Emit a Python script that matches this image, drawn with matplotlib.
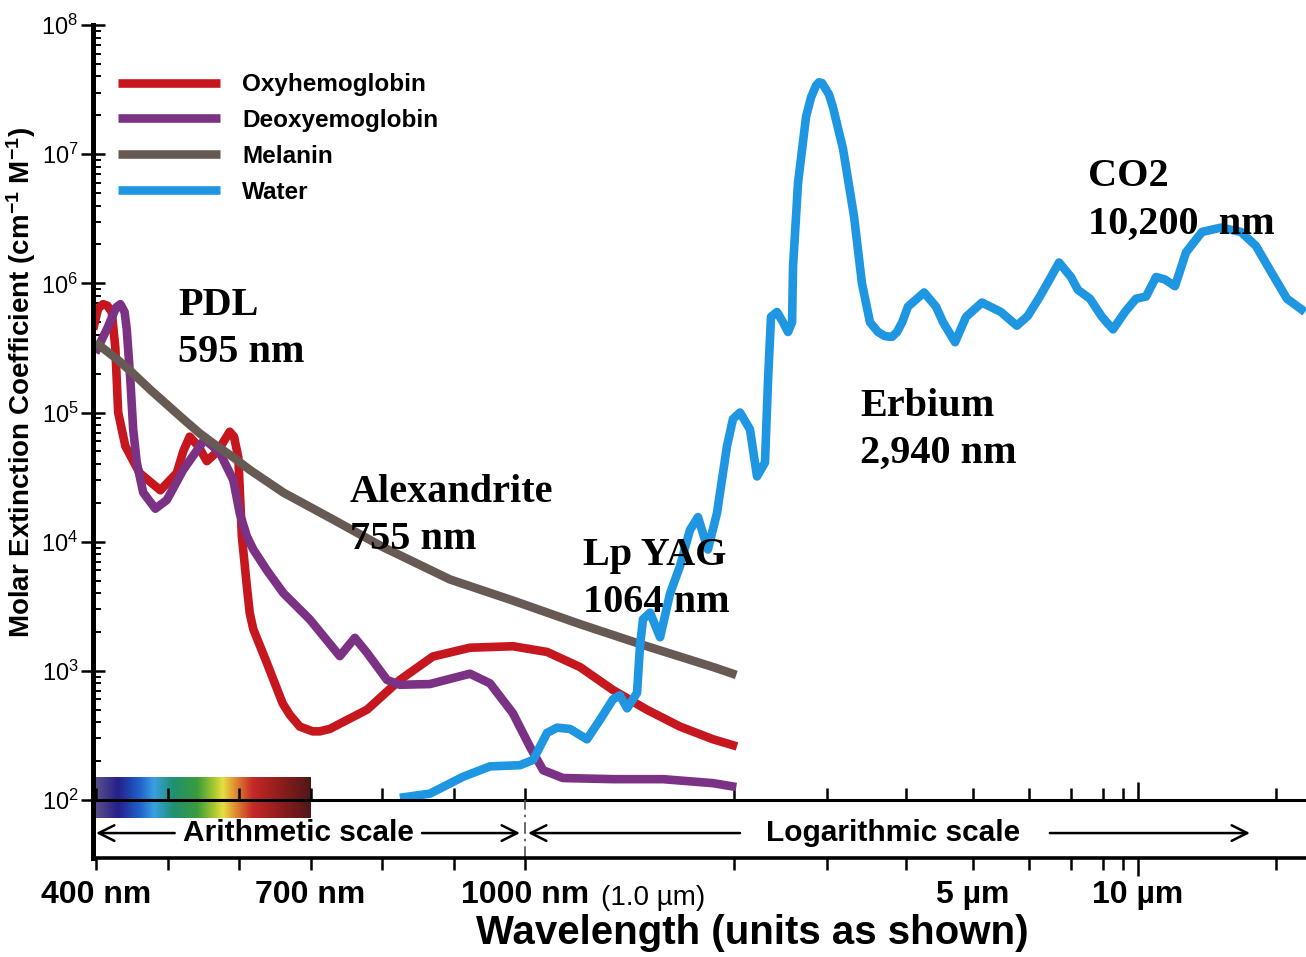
import numpy as np
import matplotlib
matplotlib.use('Agg')
import matplotlib.pyplot as plt
from matplotlib.colors import LinearSegmentedColormap
from matplotlib.ticker import FixedLocator, FuncFormatter, NullFormatter

plt.rcParams['font.family'] = 'Liberation Sans'
plt.rcParams['mathtext.fontset'] = 'custom'
plt.rcParams['mathtext.rm'] = 'Liberation Sans'
plt.rcParams['mathtext.it'] = 'Liberation Sans:italic'
plt.rcParams['mathtext.bf'] = 'Liberation Sans:bold'

# --- data: wavelength (nm) vs molar extinction coefficient ---
oxy_wl = [396, 403, 410, 416, 422, 427, 431, 441, 461, 490, 513, 522, 531, 543, 555, 570,
          587, 593, 599, 601, 604, 611, 615, 620, 639, 661, 671, 685, 703, 713, 727, 745,
          779, 825, 871, 923, 983, 1076, 1200, 1339, 1498, 1672, 1866, 2026]
oxy_val = [4.4e5, 6.4e5, 6.9e5, 6.7e5, 6.0e5, 3.2e5, 1.0e5, 5.5e4, 3.4e4, 2.5e4, 3.4e4,
           5.0e4, 6.5e4, 5.5e4, 4.2e4, 5.0e4, 7.1e4, 6.5e4, 4.5e4, 2.6e4, 1.1e4, 4.5e3,
           2.8e3, 2.1e3, 1150, 560, 457, 370, 340, 340, 355, 400, 500, 850, 1290, 1510, 1550,
           1400, 1070, 710, 500, 370, 295, 260]

deoxy_wl = [399, 416, 428, 434, 440, 443, 448, 452, 457, 466, 483, 499, 522, 552, 573, 592,
            601, 611, 620, 639, 662, 699, 741, 762, 779, 807, 825, 867, 923, 951, 983, 1017,
            1062, 1134, 1339, 1580, 1866, 2020]
deoxy_val = [2.9e5, 4.5e5, 6.5e5, 6.9e5, 6.0e5, 4.4e5, 1.8e5, 7.4e4, 4.1e4, 2.4e4, 1.8e4,
             2.1e4, 3.6e4, 6.2e4, 4.9e4, 3.0e4, 1.66e4, 1.1e4, 8.7e3, 6.0e3, 4.0e3, 2.5e3,
             1.3e3, 1.8e3, 1.38e3, 850, 780, 790, 950, 800, 470, 257, 170, 148, 145, 145,
             135, 126]

mel_wl = [399, 429, 448, 476, 522, 545, 569, 592, 615, 662, 732, 801, 895, 983, 1200, 1498,
          1866, 2020]
mel_val = [3.5e5, 2.6e5, 2.1e5, 1.5e5, 8.9e4, 6.9e4, 5.5e4, 4.5e4, 3.6e4, 2.4e4, 1.48e4,
           9.1e3, 5.1e3, 3.5e3, 2.3e3, 1.55e3, 1.07e3, 930]

water_wl = [825, 867, 913, 951, 993, 1027, 1076, 1112, 1161, 1228, 1282, 1339, 1370, 1403,
            1450, 1464, 1479, 1514, 1565, 1618, 1672, 1728, 1775, 1834, 1890, 1954, 1993,
            2053, 2144, 2211, 2289, 2320, 2350, 2412, 2476, 2531, 2576, 2587, 2644, 2738,
            2798, 2860, 2896, 2937, 2987, 3022, 3066, 3180, 3310, 3407, 3508, 3612, 3706,
            3800, 3871, 3945, 4026, 4248, 4420, 4525, 4710, 4885, 5148, 5475, 5767, 5977,
            6243, 6504, 6699, 6998, 7204, 7576, 7964, 8484, 9123, 9860, 10410, 10950, 11450,
            12040, 12730, 13790, 15170, 16770, 18080, 19500, 21130, 23130]
water_val = [104, 112, 151, 182, 186, 204, 331, 363, 355, 295, 417, 603, 646, 513, 676, 1550,
             2510, 2820, 1820, 3980, 6460, 1.23e4, 1.55e4, 8700, 1.66e4, 5.5e4, 8.9e4, 1.0e5,
             7.4e4, 3.2e4, 4.1e4, 1.8e5, 5.5e5, 6.0e5, 5.0e5, 4.2e5, 5.0e5, 1.35e6, 6.0e6,
             1.95e7, 2.75e7, 3.4e7, 3.6e7, 3.55e7, 3.16e7, 2.9e7, 2.3e7, 1.1e7, 3.3e6, 1.0e6,
             5.0e5, 4.2e5, 3.9e5, 3.85e5, 4.2e5, 5.0e5, 6.6e5, 8.5e5, 6.6e5, 5.0e5, 3.5e5,
             5.5e5, 7.1e5, 6.0e5, 4.7e5, 5.6e5, 7.9e5, 1.12e6, 1.45e6, 1.12e6, 8.9e5, 7.6e5,
             5.5e5, 4.4e5, 6.0e5, 7.6e5, 7.9e5, 1.12e6, 1.07e6, 9.5e5, 1.74e6, 2.5e6, 2.7e6,
             2.5e6, 1.95e6, 1.23e6, 7.6e5, 6.0e5]

series_names = ['Oxyhemoglobin', 'Deoxyemoglobin', 'Melanin', 'Water']
series_colors = ['#c6161e', '#7b3285', '#675a55', '#1e96e2']

laser_labels = ['PDL\n595 nm', 'Alexandrite\n755 nm', 'Lp YAG\n1064 nm',
                'Erbium\n2,940 nm', 'CO2\n10,200  nm']
laser_pos = [(0.0701, 0.662), (0.2119, 0.421), (0.4040, 0.340), (0.6323, 0.532), (0.8203, 0.828)]

major_ticks = [400, 500, 600, 700, 800, 900, 1000, 2000, 3000, 4000, 5000, 6000, 7000,
               8000, 9000, 20000]
minor_ticks = [10000]
tick_text = {400: '400 nm', 700: '700 nm', 1000: '1000 nm', 5000: '5 \u00b5m', 10000: '10 \u00b5m'}

# --- x axis: arithmetic 400-1000 nm, then a (hand drawn) logarithmic part ---
knot_wl = np.log10([1000, 2000, 3000, 4000, 5000, 6000, 7000, 8000, 9000, 10000, 20000, 40000])
knot_pos = np.array([525, 734, 827, 906, 973, 1029, 1071, 1103, 1123, 1138, 1276, 1414], float)


def fwd(w):
    w = np.asarray(w, float)
    lin = 96 + (w - 400) * 0.715
    lg = np.interp(np.log10(np.clip(w, 1, None)), knot_wl, knot_pos)
    return np.where(w <= 1000, lin, lg)


def inv(p):
    p = np.asarray(p, float)
    lin = 400 + (p - 96) / 0.715
    lg = 10 ** np.interp(p, knot_pos, knot_wl)
    return np.where(p <= 525, lin, lg)


W, H = 1306, 957
fig = plt.figure(figsize=(W / 100, H / 100), dpi=100)
ax = fig.add_axes([93 / W, (H - 800) / H, (W - 93) / W, 775 / H])
band = fig.add_axes([93 / W, (H - 858) / H, (W - 93) / W, 58 / H])
for a in (ax, band):
    a.patch.set_visible(False)
    a.set_xscale('function', functions=(fwd, inv))
    a.set_xlim(395.8, 23250)
    a.xaxis.set_major_locator(FixedLocator(major_ticks))
    a.xaxis.set_minor_locator(FixedLocator(minor_ticks))
    a.spines['top'].set_visible(False)
    a.spines['right'].set_visible(False)
    a.spines['left'].set_linewidth(3.6)

# curves
for wl, val, name, col in zip([oxy_wl, deoxy_wl, mel_wl, water_wl],
                              [oxy_val, deoxy_val, mel_val, water_val],
                              series_names, series_colors):
    ax.plot(wl, val, color=col, lw=6.2, label=name, solid_joinstyle='round',
            solid_capstyle='butt')

ax.set_yscale('log')
ax.set_ylim(1e2, 1e8)
ax.spines['bottom'].set_linewidth(2.2)
ax.yaxis.set_major_locator(FixedLocator([1e2, 1e3, 1e4, 1e5, 1e6, 1e7, 1e8]))
ax.yaxis.set_minor_locator(FixedLocator([m * 10.0 ** e for e in range(2, 8) for m in range(2, 10)]))
ax.yaxis.set_minor_formatter(NullFormatter())
ax.tick_params(axis='y', which='major', direction='inout', length=17, width=1.8, labelsize=17, pad=2)
ax.tick_params(axis='y', which='minor', direction='in', length=5.5, width=1.4)
ax.tick_params(axis='x', which='major', direction='in', length=8.6, width=1.8, labelbottom=False)
ax.tick_params(axis='x', which='minor', direction='in', length=13, width=1.8, labelbottom=False)
ax.set_ylabel('Molar Extinction Coefficient (cm$^{\\mathbf{-1}}$ M$^{\\mathbf{-1}}$)',
              fontsize=20, fontweight='bold')
ax.yaxis.set_label_coords(-0.045, 0.539)

# visible spectrum strip 400-700 nm
spec_cmap = LinearSegmentedColormap.from_list('spec', [
    (0.00, '#5a4f8a'), (0.10, '#25208a'), (0.20, '#2060c8'), (0.27, '#3aa0e0'),
    (0.36, '#1f9070'), (0.47, '#3a9c3c'), (0.55, '#a8c830'), (0.59, '#e6e040'),
    (0.65, '#e08a30'), (0.73, '#c62828'), (0.87, '#8a1c1c'), (1.00, '#4e1818')])
strip = ax.inset_axes([400, 72.6, 300, 150 - 72.6], transform=ax.transData, zorder=-1)
strip.imshow(np.linspace(0, 1, 256)[None, :], aspect='auto', cmap=spec_cmap, extent=(0, 1, 0, 1))
strip.axis('off')

leg = ax.legend(loc='upper left', bbox_to_anchor=(0.0206, 0.938), frameon=False,
                prop={'weight': 'bold', 'size': 17.5}, handlelength=4.2, handletextpad=0.9,
                labelspacing=0.53, borderpad=0, borderaxespad=0)

for txt, (xf, yf) in zip(laser_labels, laser_pos):
    ax.text(xf, yf, txt, transform=ax.transAxes, ha='left', va='top', fontsize=29,
            fontweight='bold', family='Liberation Serif', linespacing=1.36, zorder=10)

# lower band with the scale arrows and the tick labels
band.set_ylim(0, 1)
band.set_yticks([])
band.tick_params(axis='y', left=False)
band.spines['bottom'].set_linewidth(2.6)
band.xaxis.set_major_formatter(FuncFormatter(lambda v, p: tick_text.get(int(round(v)), '')))
band.xaxis.set_minor_formatter(FuncFormatter(lambda v, p: tick_text.get(int(round(v)), '')))
band.tick_params(axis='x', which='major', direction='out', length=8.6, width=1.8, labelsize=23, pad=7)
band.tick_params(axis='x', which='minor', direction='out', length=13, width=1.8, labelsize=23, pad=3)
for t in band.get_xticklabels(which='both'):
    t.set_fontweight('bold')

tr = band.get_xaxis_transform()
arrow = dict(arrowstyle='->', lw=1.8, color='black', mutation_scale=28, shrinkA=0, shrinkB=0)
yarr = 0.43
band.annotate('', xy=(400, yarr), xytext=(510, yarr), xycoords=tr, textcoords=tr, arrowprops=arrow)
band.annotate('', xy=(993, yarr), xytext=(856, yarr), xycoords=tr, textcoords=tr, arrowprops=arrow)
band.annotate('', xy=(1010, yarr), xytext=(2053, yarr), xycoords=tr, textcoords=tr, arrowprops=arrow)
band.annotate('', xy=(17550, yarr), xytext=(6478, yarr), xycoords=tr, textcoords=tr, arrowprops=arrow)
band.text(683, yarr, 'Arithmetic scale', transform=tr, ha='center', va='center',
          fontsize=21.5, fontweight='bold')
band.text(3814, yarr, 'Logarithmic scale', transform=tr, ha='center', va='center',
          fontsize=21.5, fontweight='bold')
band.axvline(1000, color='0.3', lw=1.2, ls=(0, (7, 3, 1.5, 3)))
band.text(1286, -0.81, '(1.0 \u00b5m)', transform=tr, ha='left', va='baseline', fontsize=20)

band.set_xlabel('Wavelength (units as shown)', fontsize=29, fontweight='bold')
band.xaxis.set_label_coords(0.5433, -0.97)

fig.savefig('out.png', dpi=100)
